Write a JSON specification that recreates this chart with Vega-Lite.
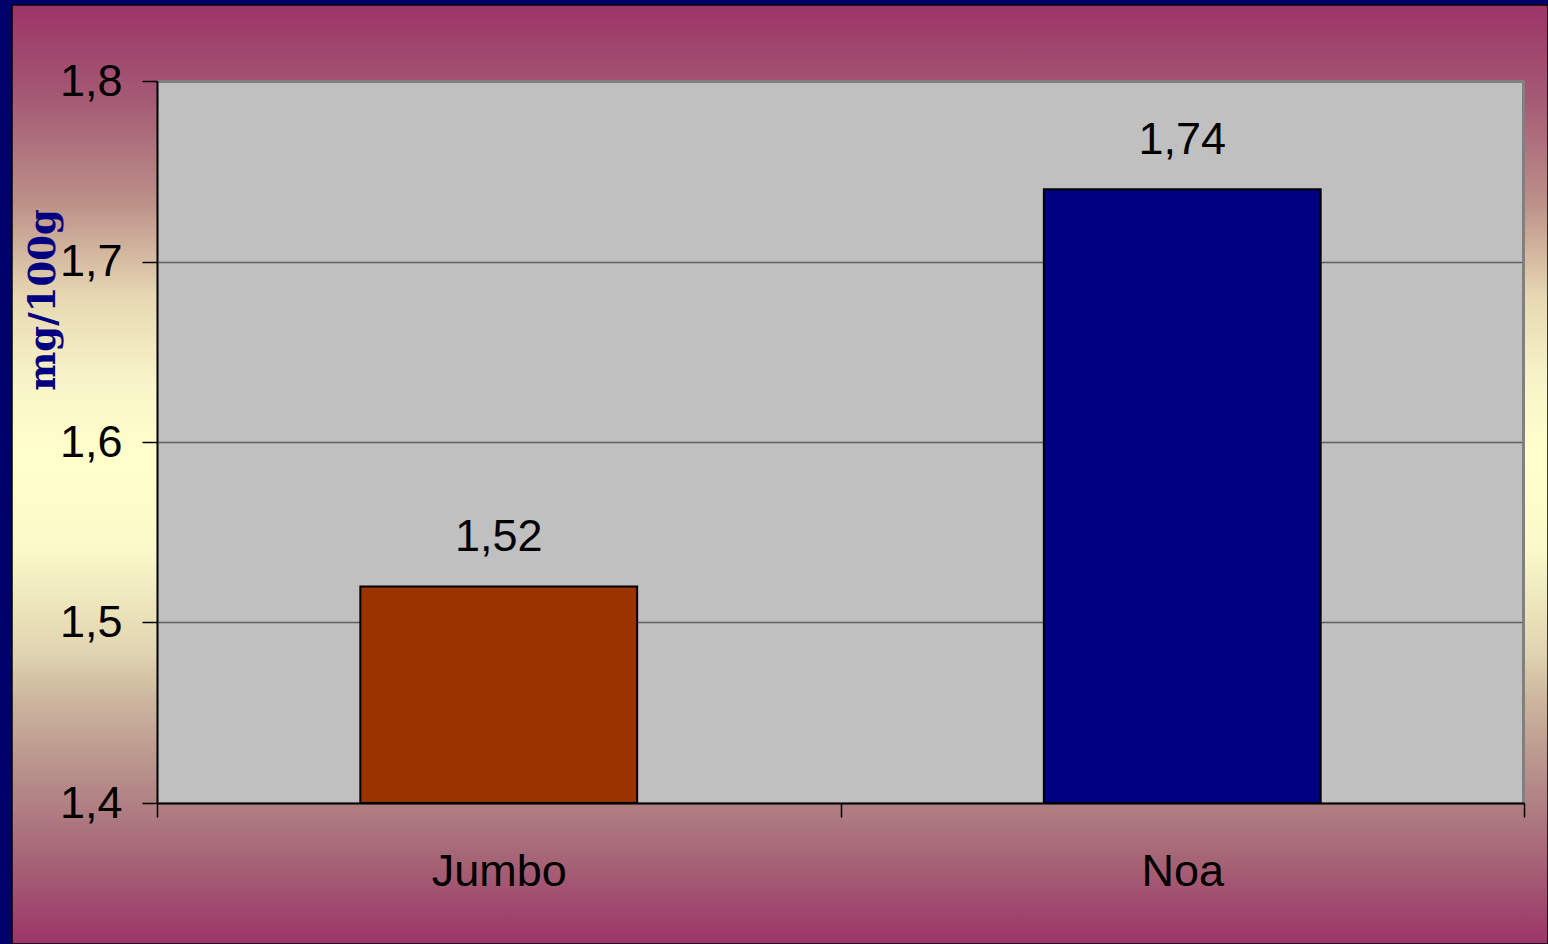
{
  "$schema": "https://vega.github.io/schema/vega-lite/v6.json",
  "autosize": {"type": "none"},
  "padding": {"left": 12, "top": 5, "right": 0, "bottom": 0},
  "width": 1536,
  "height": 939,
  "background": "#00006b",
  "config": {
    "locale": {"number": {"decimal": ",", "thousands": ".", "grouping": [3], "currency": ["", " €"]}},
    "view": {
      "stroke": "#000000",
      "strokeWidth": 1.5,
      "fill": {
        "gradient": "linear", "x1": 0, "y1": 0, "x2": 0, "y2": 1,
        "stops": [
          {"offset": 0, "color": "#9c3468"},
          {"offset": 0.10, "color": "#a45a74"},
          {"offset": 0.21, "color": "#bc9088"},
          {"offset": 0.31, "color": "#e6d8b2"},
          {"offset": 0.40, "color": "#f8f4c8"},
          {"offset": 0.48, "color": "#ffffcc"},
          {"offset": 0.58, "color": "#fbf9c9"},
          {"offset": 0.69, "color": "#e0d4b0"},
          {"offset": 0.74, "color": "#ccb69e"},
          {"offset": 0.83, "color": "#b48a88"},
          {"offset": 0.91, "color": "#a66476"},
          {"offset": 1, "color": "#9c3468"}
        ]
      }
    }
  },
  "data": {"values": [
    {"variety": "Jumbo", "value": 1.52},
    {"variety": "Noa", "value": 1.74}
  ]},
  "encoding": {
    "x": {
      "field": "variety", "type": "nominal",
      "scale": {"domain": ["Jumbo", "Noa"], "range": [145, 1512], "paddingInner": 0, "paddingOuter": 0},
      "axis": {
        "title": null, "offset": -141, "tickBand": "extent", "tickSize": 14, "tickColor": "#000000", "tickWidth": 1.5,
        "domainColor": "#000000", "domainWidth": 2, "labelFont": "Liberation Sans", "labelFontSize": 45,
        "labelColor": "#000000", "labelPadding": 32, "labelAngle": 0, "grid": false, "zindex": 1
      }
    }
  },
  "layer": [
    {
      "mark": {"type": "bar", "width": {"band": 0.405}, "stroke": "#000000", "strokeWidth": 2},
      "encoding": {
        "y": {
          "field": "value", "type": "quantitative",
          "scale": {"domain": [1.4, 1.8], "range": [798, 76], "nice": false, "zero": false},
          "axis": {
            "orient": "left", "offset": -1511, "values": [1.6], "labels": false, "ticks": false, "title": null,
            "grid": true, "gridColor": "#c0c0c0", "gridWidth": 722, "gridOpacity": 1,
            "domainColor": "#808080", "domainWidth": 3, "zindex": 0
          }
        },
        "y2": {"datum": 1.4},
        "color": {"field": "variety", "type": "nominal", "scale": {"domain": ["Jumbo", "Noa"], "range": ["#993300", "#000080"]}, "legend": null}
      }
    },
    {
      "mark": {"type": "text", "font": "Liberation Sans", "fontSize": 45, "color": "#000000", "baseline": "alphabetic", "dy": -35},
      "encoding": {
        "y": {
          "field": "value", "type": "quantitative",
          "scale": {"domain": [1.4, 1.8], "range": [798, 76], "nice": false, "zero": false},
          "axis": {
            "orient": "left", "offset": -145, "values": [1.4, 1.5, 1.6, 1.7, 1.8], "format": ".1f",
            "grid": true,
            "gridColor": {"condition": {"test": "datum.value > 1.79", "value": "#808080"}, "value": "#5f5f5f"},
            "gridWidth": {"condition": {"test": "datum.value > 1.79", "value": 3}, "value": 1.5},
            "gridOpacity": 1,
            "domainColor": "#000000", "domainWidth": 2,
            "tickColor": "#000000", "tickSize": 15, "tickWidth": 1.5,
            "labelFont": "Liberation Sans", "labelFontSize": 45, "labelColor": "#000000", "labelPadding": 20,
            "title": "mg/100g", "titleFont": "DejaVu Serif", "titleFontWeight": "bold", "titleFontSize": 37,
            "titleColor": "#000080", "titleAngle": -90, "titleX": -103, "titleY": 294.5,
            "titleBaseline": "alphabetic", "titleAlign": "center", "zindex": 0
          }
        },
        "text": {"field": "value", "type": "quantitative", "format": ".2f"}
      }
    }
  ],
  "resolve": {"axis": {"y": "independent"}}
}
